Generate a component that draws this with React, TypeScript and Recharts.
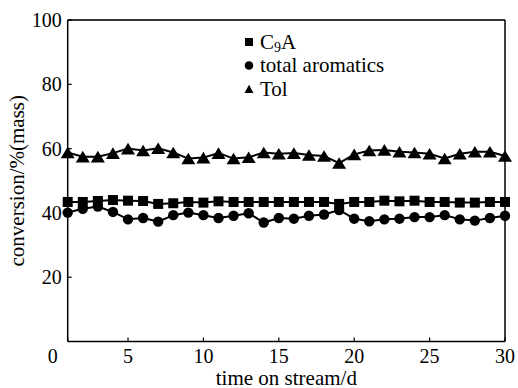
import React from 'react';
import { LineChart, Line, XAxis, YAxis, ReferenceLine, Legend, Label } from 'recharts';

const days = [1, 2, 3, 4, 5, 6, 7, 8, 9, 10, 11, 12, 13, 14, 15, 16, 17, 18, 19, 20, 21, 22, 23, 24, 25, 26, 27, 28, 29, 30];
const c9a = [43.4, 43.4, 43.7, 44.0, 43.8, 43.7, 42.8, 43.0, 43.4, 43.2, 43.6, 43.4, 43.4, 43.4, 43.4, 43.4, 43.4, 43.4, 42.8, 43.4, 43.4, 43.8, 43.6, 43.8, 43.4, 43.4, 43.2, 43.2, 43.4, 43.4];
const totalAromatics = [40.1, 41.3, 42.0, 40.3, 38.0, 38.4, 37.3, 39.3, 40.1, 39.3, 38.4, 39.1, 39.9, 37.0, 38.4, 38.2, 39.1, 39.5, 40.9, 38.2, 37.4, 38.0, 38.2, 38.7, 38.7, 39.3, 38.0, 37.6, 38.4, 39.1];
const tol = [58.8, 57.5, 57.5, 58.6, 60.0, 59.4, 60.1, 58.8, 56.9, 57.2, 58.6, 56.9, 57.3, 58.8, 58.4, 58.6, 58.0, 57.7, 55.5, 58.2, 59.4, 59.6, 59.0, 58.8, 58.4, 56.9, 58.4, 59.0, 59.0, 57.7];
const xTicks = [1, 5, 10, 15, 20, 25, 30];
const xTickLabels = ['0', '5', '10', '15', '20', '25', '30'];
const yTicks = [20, 40, 60, 80, 100];
const seriesNames = ['C9A', 'total aromatics', 'Tol'];

const data = days.map((d, i) => ({ day: d, c9a: c9a[i], total: totalAromatics[i], tol: tol[i] }));

const FONT = '"Liberation Serif", "Times New Roman", serif';

const SquareDot = (p: any) => {
  const { cx, cy, index } = p;
  if (cx == null || cy == null) return <g key={index} />;
  return <rect key={index} x={cx - 5} y={cy - 5} width={10} height={10} fill="#000" />;
};
const CircleDot = (p: any) => {
  const { cx, cy, index } = p;
  if (cx == null || cy == null) return <g key={index} />;
  return <circle key={index} cx={cx} cy={cy} r={5.2} fill="#000" />;
};
const TriangleDot = (p: any) => {
  const { cx, cy, index } = p;
  if (cx == null || cy == null) return <g key={index} />;
  const w = 7, h = 5.8;
  return <polygon key={index} points={`${cx},${cy - h} ${cx - w},${cy + h} ${cx + w},${cy + h}`} fill="#000" />;
};

const XTick = (props: any) => {
  const { x, y, payload } = props;
  const idx = xTicks.indexOf(payload.value);
  const label = idx >= 0 ? xTickLabels[idx] : String(payload.value);
  const shift = payload.value === 1 ? -15 : 0;
  return (
    <text x={x + shift} y={y} dy="0.71em" textAnchor="middle" fontFamily={FONT} fontSize={20} fill="#000">
      {label}
    </text>
  );
};

const YTick = (props: any) => {
  const { x, y, payload } = props;
  return (
    <text x={x} y={y} dy="0.355em" textAnchor="end" fontFamily={FONT} fontSize={20} fill="#000">
      {payload.value}
    </text>
  );
};

const LegendContent = () => {
  const rowH = 23.5;
  return (
    <svg width={180} height={80} style={{ display: 'block' }}>
      {seriesNames.map((name, i) => {
        const cy = 12 + i * rowH;
        let marker;
        if (i === 0) marker = <rect x={5} y={cy - 4} width={8} height={8} fill="#000" />;
        else if (i === 1) marker = <circle cx={9} cy={cy} r={4.3} fill="#000" />;
        else marker = <polygon points={`9,${cy - 4.2} ${4.5},${cy + 4} ${13.5},${cy + 4}`} fill="#000" />;
        return (
          <g key={name}>
            {marker}
            <text x={20} y={cy + 6.5} fontFamily={FONT} fontSize={21} fill="#000">
              {i === 0 ? (
                <>
                  C<tspan fontSize={14} dy={3}>9</tspan><tspan dy={-3}>A</tspan>
                </>
              ) : (
                name
              )}
            </text>
          </g>
        );
      })}
    </svg>
  );
};

export default function App() {
  return (
    <div style={{ position: 'absolute', left: 0, top: 0, width: 518, height: 388, background: '#fff' }}>
      <LineChart width={518} height={388} data={data} margin={{ top: 20, right: 13, bottom: 0, left: 0 }}>
        <XAxis
          dataKey="day"
          type="number"
          domain={[1, 30]}
          ticks={xTicks}
          interval={0}
          height={46.5}
          tickSize={-4}
          tickMargin={11}
          axisLine={{ stroke: '#000', strokeWidth: 1.5 }}
          tickLine={{ stroke: '#000', strokeWidth: 1.2 }}
          tick={<XTick />}
        >
          <Label
            content={(p: any) => {
              const vb = p.viewBox || {};
              return (
                <text x={vb.x + vb.width / 2} y={384.5} textAnchor="middle" fontFamily={FONT} fontSize={21} fill="#000">
                  time on stream/d
                </text>
              );
            }}
          />
        </XAxis>
        <YAxis
          type="number"
          domain={[0, 100]}
          ticks={yTicks}
          interval={0}
          width={67.7}
          tickSize={-4}
          tickMargin={10}
          axisLine={{ stroke: '#000', strokeWidth: 1.5 }}
          tickLine={{ stroke: '#000', strokeWidth: 1.2 }}
          tick={<YTick />}
        >
          <Label
            content={(p: any) => {
              const vb = p.viewBox || {};
              const cy = vb.y + vb.height / 2;
              return (
                <text x={17} y={cy} transform={`rotate(-90 17 ${cy})`} dy="0.35em" textAnchor="middle" fontFamily={FONT} fontSize={21} fill="#000">
                  conversion/%(mass)
                </text>
              );
            }}
          />
        </YAxis>
        <ReferenceLine y={100} stroke="#333" strokeWidth={2} ifOverflow="visible" />
        <ReferenceLine x={30} stroke="#000" strokeWidth={1.5} ifOverflow="visible" />
        <Legend
          layout="horizontal"
          verticalAlign="middle"
          align="center"
          content={<LegendContent />}
          wrapperStyle={{ left: 240, top: 30, width: 180 }}
        />
        <Line dataKey="tol" name="Tol" stroke="#000" strokeWidth={2} dot={TriangleDot} activeDot={false} isAnimationActive={false} />
        <Line dataKey="total" name="total aromatics" stroke="#000" strokeWidth={2} dot={CircleDot} activeDot={false} isAnimationActive={false} />
        <Line dataKey="c9a" name="C9A" stroke="#000" strokeWidth={2} dot={SquareDot} activeDot={false} isAnimationActive={false} />
      </LineChart>
    </div>
  );
}
